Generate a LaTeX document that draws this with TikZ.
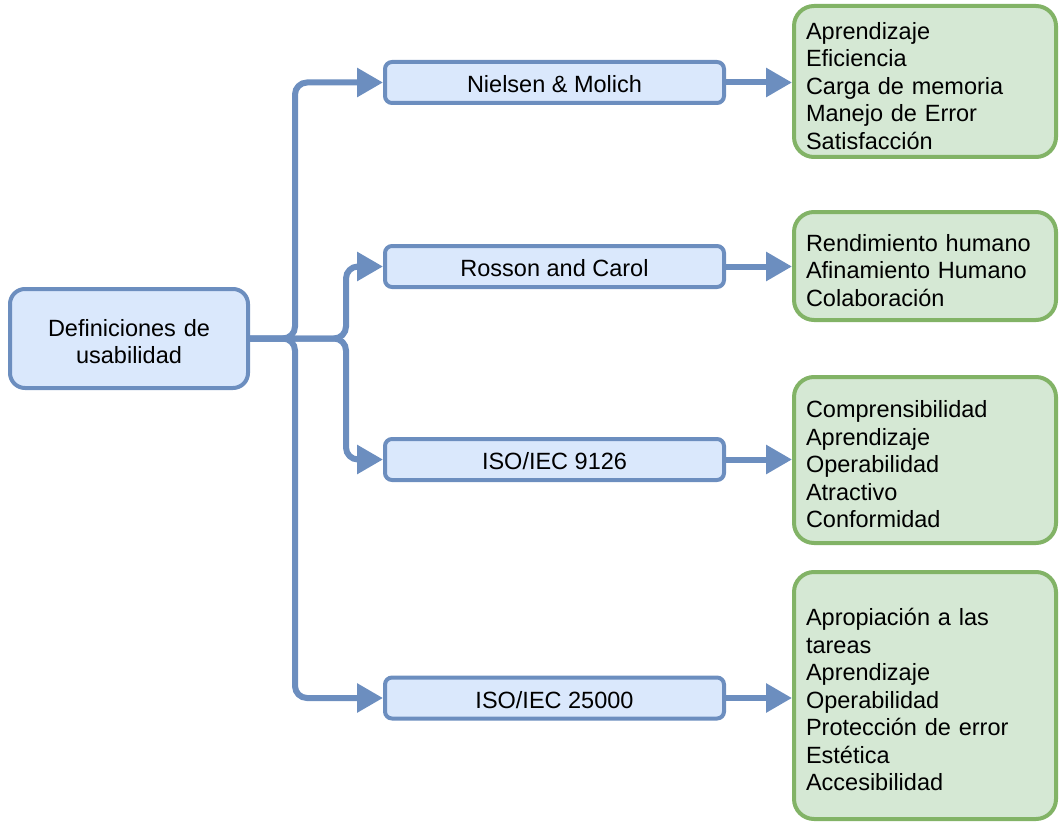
\documentclass[tikz,border=0pt]{standalone}
\usepackage{fontspec}
\setmainfont{Liberation Sans}
\usetikzlibrary{arrows.meta}
\definecolor{blueFill}{HTML}{DAE8FC}
\definecolor{blueLine}{HTML}{6C8EBF}
\definecolor{greenFill}{HTML}{D5E8D4}
\definecolor{greenLine}{HTML}{82B366}

\begin{document}
\begin{tikzpicture}[x=1pt,y=-1pt,
  txt/.style={font=\fontsize{23.5}{27.5}\selectfont, text=black},
  blueBox/.style={txt, draw=blueLine, fill=blueFill, line width=4pt,
    rounded corners=7pt, minimum width=339pt, minimum height=41pt, inner sep=0pt,
    text height=20pt, text depth=0pt},
  rootBox/.style={txt, draw=blueLine, fill=blueFill, line width=4pt,
    rounded corners=15pt, minimum width=238pt, minimum height=99pt,
    text width=222pt, inner xsep=8pt, align=center,
    execute at begin node={\rule{0pt}{23pt}}},
  greenBox/.style={txt, draw=greenLine, fill=greenFill, line width=4pt,
    rounded corners=20pt, text width=238pt, inner xsep=12pt, inner ysep=0pt, align=left,
    execute at begin node={\rule{0pt}{26pt}}},
  link/.style={draw=blueLine, line width=6pt, rounded corners=12pt,
    -{Triangle[length=26pt,width=28pt]}}
]
\useasboundingbox (0,0) rectangle (1059,821);

% root concept
\node[rootBox] (root) at (129,338.5) {Definiciones de\\usabilidad};

% the four definitions
\node[blueBox] (nm)  at (554.5,82.5) {Nielsen \& Molich};
\node[blueBox] (rc)  at (554.5,266.5) {Rosson and Carol};
\node[blueBox] (i1)  at (554.5,459.5) {ISO/IEC 9126};
\node[blueBox] (i2)  at (554.5,698)   {ISO/IEC 25000};

% attributes of each definition
\node[greenBox, minimum height=151pt] (g1) at (925,81.5)
  {Aprendizaje\\Eficiencia\\Carga de memoria\\Manejo de Error\\Satisfacción};
\node[greenBox, minimum height=108pt] (g2) at (925,266)
  {Rendimiento humano\\Afinamiento Humano\\Colaboración};
\node[greenBox, minimum height=166pt] (g3) at (925,460)
  {Comprensibilidad\\Aprendizaje\\Operabilidad\\Atractivo\\Conformidad};
\node[greenBox, minimum height=247pt] (g4) at (925,695.5)
  {Apropiación a las\\tareas\\Aprendizaje\\Operabilidad\\Protección de error\\Estética\\Accesibilidad};

% branches from the root
\draw[link] (root.east) -- ++(45,0) |- (nm.west);
\draw[link] (root.east) -- ++(96,0) |- (rc.west);
\draw[link] (root.east) -- ++(96,0) |- (i1.west);
\draw[link] (root.east) -- ++(45,0) |- (i2.west);

% definitions to their attributes
\draw[link] (nm.east) -- (nm.east -| g1.west);
\draw[link] (rc.east) -- (rc.east -| g2.west);
\draw[link] (i1.east) -- (i1.east -| g3.west);
\draw[link] (i2.east) -- (i2.east -| g4.west);
\end{tikzpicture}
\end{document}
